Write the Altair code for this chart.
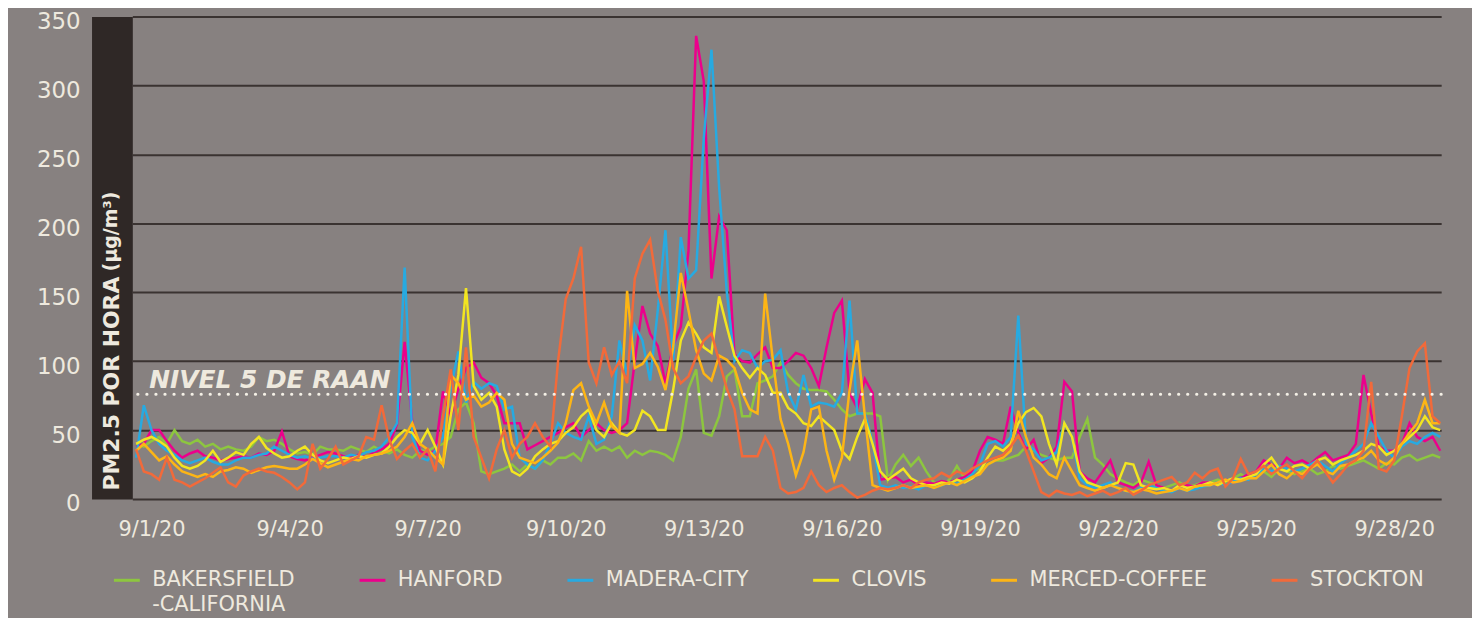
import altair as alt
import pandas as pd

# time axis: hours since 9/1/20 00:00, every 4 hours
hours = list(range(-8, 673, 4))
tick_hours = [0, 72, 144, 216, 288, 360, 432, 504, 576, 648]

stations = ["BAKERSFIELD-CALIFORNIA", "HANFORD", "MADERA-CITY", "CLOVIS", "MERCED-COFFEE", "STOCKTON"]
colors = ["#8dc63f", "#ec008c", "#27aae1", "#f2e520", "#fdb515", "#f26a3a"]

bakersfield = [40, 38,
    42, 45, 40, 50, 42, 40,   43, 38, 40, 36, 38, 36,   35, 38, 45, 42, 43, 40,
    36, 33, 34, 32, 38, 36,   36, 35, 38, 36, 34, 38,   35, 33, 36, 32, 30, 35,
    35, 38, 40, 45, 65, 70,   55, 20, 18, 20, 22, 25,   20, 25, 22, 28, 25, 30,
    30, 33, 28, 42, 35, 38,   35, 38, 30, 35, 32, 35,   34, 32, 28, 45, 80, 94,
    48, 46, 60, 89, 94, 60,   60, 84, 86, 89, 99, 90,   84, 80, 79, 79, 78, 72,
    65, 60, 62, 62, 62, 60,   14, 25, 32, 24, 30, 20,   12, 10, 14, 24, 15, 20,
    22, 25, 28, 28, 30, 32,   38, 35, 32, 30, 28, 30,   30, 45, 58, 30, 25, 18,
    15, 12, 10, 14, 12, 10,   8, 10, 12, 9, 10, 12,     12, 14, 12, 15, 18, 15,
    18, 20, 16, 22, 20, 18,   20, 22, 18, 20, 24, 22,   24, 26, 28, 25, 22, 26,
    25, 30, 32, 28, 30, 32,   30]

hanford = [38, 40,
    50, 50, 42, 35, 30, 33,   35, 31, 30, 28, 29, 30,   31, 30, 33, 32, 35, 49,
    31, 29, 28, 30, 32, 34,   33, 31, 30, 32, 30, 34,   36, 40, 54, 114, 55, 35,
    32, 35, 78, 60, 80, 95,   99, 88, 84, 75, 55, 55,   55, 36, 39, 42, 45, 48,
    52, 55, 45, 50, 55, 50,   48, 50, 55, 100, 140, 120, 111, 84, 111, 125, 180, 336,
    303, 160, 205, 195, 105, 100, 99, 105, 110, 95, 95, 100, 106, 104, 95, 82, 110, 135,
    144, 77, 66, 87, 77, 14,  15, 16, 12, 14, 10, 12,   11, 13, 12, 14, 16, 20,
    35, 45, 43, 40, 67, 48,   36, 43, 26, 30, 38, 85,   78, 20, 15, 12, 20, 28,
    12, 10, 8, 12, 27, 10,    8, 6, 8, 10, 9, 12,       12, 10, 14, 12, 15, 18,
    20, 28, 25, 22, 30, 26,   28, 25, 30, 34, 28, 30,   32, 40, 90, 62, 38, 35,
    35, 40, 55, 45, 42, 45,   35]

madera = [30, 68,
    50, 40, 35, 32, 28, 26,   28, 30, 27, 25, 25, 28,   30, 30, 32, 33, 38, 35,
    32, 30, 31, 29, 30, 31,   31, 30, 32, 31, 34, 35,   38, 45, 55, 168, 45, 30,
    28, 35, 45, 80, 107, 70,  85, 80, 84, 82, 65, 67,   30, 25, 22, 28, 40, 55,
    48, 45, 43, 60, 40, 43,   60, 115, 90, 126, 115, 86, 137, 195, 100, 190, 160, 166,
    262, 326, 226, 150, 100, 108, 106, 95, 100, 101, 108, 77, 65, 90, 67, 70, 69, 67,
    77, 144, 62, 62, 41, 10,  8, 10, 8, 9, 7, 10,       9, 10, 12, 11, 14, 18,
    25, 40, 42, 38, 45, 133,  40, 36, 28, 30, 34, 55,   45, 15, 10, 8, 10, 12,
    8, 6, 5, 8, 10, 8,        6, 5, 8, 6, 7, 9,         10, 12, 10, 13, 15, 14,
    18, 22, 20, 24, 22, 20,   22, 25, 28, 24, 20, 26,   30, 35, 40, 55, 45, 35,
    30, 38, 42, 40, 45, 48,   45]

clovis = [40, 43,
    45, 42, 38, 30, 24, 22,   24, 28, 35, 27, 30, 34,   32, 40, 45, 37, 33, 30,
    31, 35, 38, 32, 28, 26,   28, 30, 29, 31, 30, 32,   33, 38, 45, 50, 48, 40,
    50, 38, 25, 60, 90, 153,  82, 72, 77, 67, 36, 20,   17, 22, 31, 36, 40, 42,
    48, 52, 60, 65, 50, 45,   55, 48, 46, 50, 64, 60,   50, 50, 79, 115, 128, 120,
    110, 106, 147, 125, 104, 95, 88, 95, 90, 77, 77, 66, 62, 55, 53, 60, 55, 50,
    35, 29, 45, 58, 40, 20,   14, 18, 22, 15, 12, 10,   10, 12, 11, 14, 12, 15,
    20, 30, 38, 35, 40, 55,   63, 66, 60, 40, 25, 55,   45, 20, 12, 10, 8, 10,
    12, 26, 25, 10, 8, 7,     8, 6, 10, 8, 9, 10,       12, 10, 13, 15, 14, 16,
    18, 25, 30, 22, 20, 24,   25, 22, 28, 30, 25, 28,   30, 32, 35, 40, 38, 32,
    35, 40, 45, 50, 60, 52,   50]

merced = [35, 40,
    34, 28, 31, 25, 20, 18,   16, 18, 16, 20, 21, 23,   22, 19, 21, 23, 24, 23,
    22, 22, 25, 29, 26, 23,   25, 27, 29, 28, 31, 32,   33, 35, 38, 45, 55, 40,
    36, 30, 25, 90, 84, 72,   75, 67, 70, 77, 72, 40,   30, 28, 26, 30, 35, 41,
    55, 79, 84, 67, 55, 70,   53, 48, 151, 95, 98, 106, 96, 79, 110, 164, 137, 108,
    91, 86, 104, 101, 95, 77, 65, 62, 149, 101, 58, 40, 17, 34, 65, 67, 35, 14,
    30, 79, 115, 60, 10, 8,   6, 8, 10, 8, 9, 10,       8, 10, 12, 10, 13, 16,
    18, 25, 28, 30, 35, 64,   45, 30, 25, 18, 15, 30,   20, 10, 8, 6, 8, 10,
    8, 6, 5, 7, 6, 4,         5, 6, 8, 6, 9, 10,        10, 12, 14, 12, 13, 15,
    15, 20, 25, 18, 15, 20,   18, 22, 25, 20, 18, 24,   25, 28, 30, 35, 28, 25,
    30, 40, 48, 55, 72, 55,   55]

stockton = [36, 20,
    18, 14, 30, 14, 12, 9,    12, 15, 19, 23, 12, 9,    17, 20, 22, 20, 19, 16,
    12, 7, 12, 40, 22, 29,    38, 25, 28, 31, 45, 43,   68, 43, 29, 35, 40, 30,
    36, 20, 60, 94, 50, 110,  45, 30, 15, 36, 50, 30,   40, 45, 55, 45, 38, 100,
    145, 160, 183, 99, 84, 110, 90, 100, 84, 160, 178, 188, 151, 130, 95, 84, 89, 103,
    115, 120, 100, 80, 65, 31, 31, 31, 45, 35, 8, 4,    5, 8, 20, 10, 5, 8,
    10, 5, 1, 3, 6, 8,        7, 8, 10, 8, 12, 14,      15, 19, 16, 20, 18, 22,
    25, 28, 30, 32, 38, 46,   35, 20, 5, 2, 6, 4,       3, 5, 2, 4, 6, 3,
    5, 8, 3, 6, 10, 12,       14, 16, 10, 12, 19, 15,   20, 22, 9, 15, 29, 18,
    20, 24, 18, 22, 25, 20,   15, 22, 28, 20, 12, 18,   25, 28, 35, 85, 22, 20,
    28, 60, 95, 107, 113, 60, 55]

series = [bakersfield, hanford, madera, clovis, merced, stockton]

rows = []
for name, vals in zip(stations, series):
    for h, v in zip(hours, vals):
        rows.append({"h": h, "v": v, "station": name})
df = pd.DataFrame(rows)

threshold = [76]
threshold_label = ["NIVEL 5 DE RAAN"]
legend_second_line = ["-CALIFORNIA"]

cream = "#eee9de"
band = "#2f2826"
grid = "#3a3331"
bg = "#878180"
font = "DejaVu Sans"

lines = alt.Chart(df).mark_line(strokeWidth=2.5).encode(
    x=alt.X("h:Q",
            scale=alt.Scale(domain=[-10, 672.5], nice=False, zero=False),
            axis=alt.Axis(values=tick_hours, title=None, grid=False, domain=False, ticks=False,
                          labelExpr="'9/' + (datum.value/24 + 1) + '/20'",
                          labelFontSize=21, labelFont=font, labelColor=cream, labelPadding=20,
                          labelFontWeight="normal")),
    y=alt.Y("v:Q",
            scale=alt.Scale(domain=[0, 350], nice=False),
            axis=alt.Axis(values=[0, 50, 100, 150, 200, 250, 300, 350], title=None,
                          grid=True, gridColor=grid, gridWidth=2, gridOpacity=1,
                          domain=True, domainColor=band, domainWidth=41, offset=20.5,
                          ticks=False, tickSize=0, labelPadding=32, labelOffset=5,
                          labelFontSize=23, labelFont=font, labelColor=cream,
                          labelFontWeight="normal")),
    color=alt.Color("station:N",
                    scale=alt.Scale(domain=stations, range=colors),
                    legend=alt.Legend(title=None, orient="none", legendX=-20, legendY=552,
                                      direction="horizontal", symbolType="stroke",
                                      symbolStrokeWidth=3, symbolSize=676,
                                      labelFontSize=21, labelFont=font, labelColor=cream,
                                      labelLimit=400, columnPadding=58, labelOffset=11,
                                      labelExpr="datum.label == 'BAKERSFIELD-CALIFORNIA' ? 'BAKERSFIELD' : datum.label")),
)

tdf = pd.DataFrame({"level": threshold, "label": threshold_label})

rule = alt.Chart(tdf).mark_rule(color="#f4f0e6", strokeWidth=3.2, strokeDash=[0.1, 9],
                                strokeCap="round").encode(y="level:Q")

rule_text = alt.Chart(tdf).mark_text(align="left", baseline="alphabetic", dy=-6, fontSize=25,
                                     fontWeight="bold", fontStyle="italic", font=font,
                                     color=cream).encode(
    x=alt.value(17), y="level:Q", text="label:N")

title1 = alt.Chart(pd.DataFrame({"t": ["PM2.5 POR HORA"]})).mark_text(
    angle=270, fontSize=22, fontWeight="bold", font=font, color=cream,
    align="center", baseline="middle").encode(
    x=alt.value(-20.5), y=alt.value(369), text="t:N")

title2 = alt.Chart(pd.DataFrame({"t": ["(µg/m³)"]})).mark_text(
    angle=270, fontSize=19, fontWeight="bold", font=font, color=cream,
    align="center", baseline="middle").encode(
    x=alt.value(-21.5), y=alt.value(216), text="t:N")

second = alt.Chart(pd.DataFrame({"t": legend_second_line})).mark_text(
    align="left", baseline="middle", fontSize=21, font=font, color=cream).encode(
    x=alt.value(20), y=alt.value(592), text="t:N")

chart = alt.layer(lines, rule, rule_text, title1, title2, second).properties(
    width=1316, height=485,
    autosize=alt.AutoSizeParams(type="none"),
    padding={"left": 125, "top": 7, "right": 31, "bottom": 118},
    background=bg,
).configure_view(strokeWidth=0)

chart.save("out.html", embed_options={"renderer": "svg", "actions": False})
